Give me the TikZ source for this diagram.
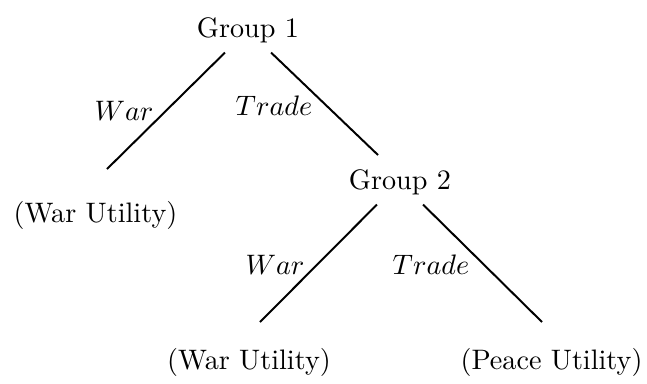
\documentclass[tikz,border=0pt]{standalone}
\usepackage{tikz}
\usetikzlibrary{positioning,calc}

\begin{document}
\begin{tikzpicture}[x=0.355pt,y=-0.355pt,
 pl/.style={inner sep=3.33pt},
 br/.style={line width=0.7pt},
 lb/.style={inner sep=0pt}]
\useasboundingbox (0,0) rectangle (647,383);
\node[pl] (g1) at (248,30) {Group 1};
\node[pl] (g2) at (400,182) {Group 2};
\node[pl] (u1) at (95.5,215) {(War Utility)};
\node[pl] (u2) at (249,362) {(War Utility)};
\node[pl] (u3) at (551.5,362) {(Peace Utility)};
% branch ends
\coordinate (e1) at (107,169);
\coordinate (e2) at (378,155);
\coordinate (e3) at (260,322);
\coordinate (e4) at (542,322);
\draw[br] ([xshift=-8.2pt]g1.south) -- (e1);
\draw[br] ([xshift=8.2pt]g1.south) -- (e2);
\draw[br] ([xshift=-8.2pt]g2.south) -- (e3);
\draw[br] ([xshift=8.2pt]g2.south) -- (e4);
\node[lb] (w1) at (124,111) {$War$};
\node[lb] (t1) at (274,106) {$Trade$};
\node[lb] (w2) at (275,265) {$War$};
\node[lb] (t2) at (431,265) {$Trade$};
\end{tikzpicture}
\end{document}
